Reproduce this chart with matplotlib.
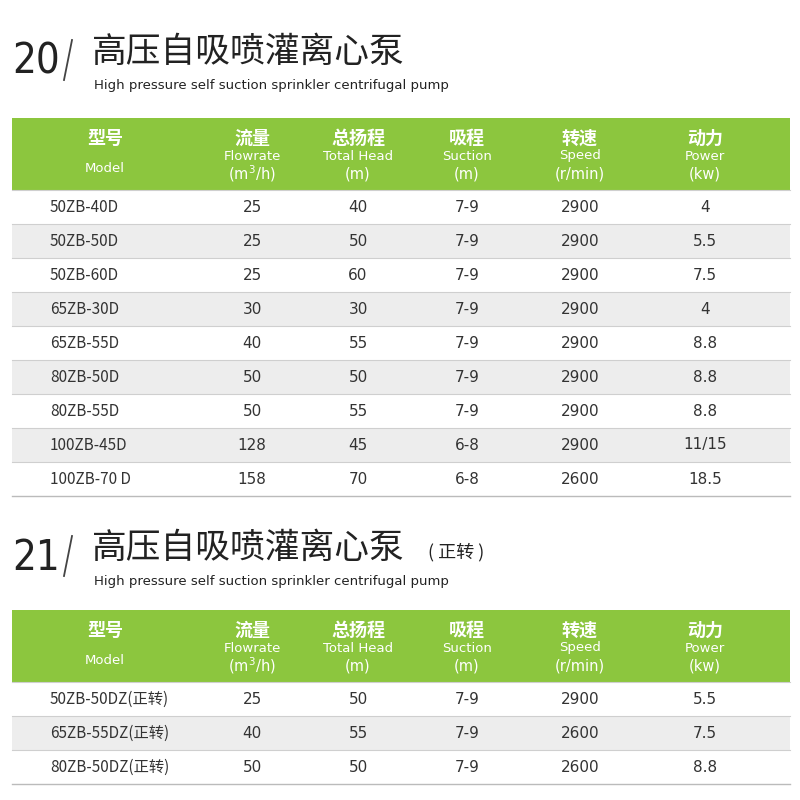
import matplotlib
matplotlib.use("Agg")
import matplotlib.pyplot as plt
from matplotlib.patches import Rectangle

plt.rcParams['font.family'] = ['Noto Sans CJK SC', 'DejaVu Sans']

header_cn = ["型号", "流量", "总扬程", "吸程", "转速", "动力"]
header_en = ["Model", "Flowrate", "Total Head", "Suction", "Speed", "Power"]
header_unit = ["", "(m$^3$/h)", "(m)", "(m)", "(r/min)", "(kw)"]

models_1 = ["50ZB-40D", "50ZB-50D", "50ZB-60D", "65ZB-30D", "65ZB-55D",
            "80ZB-50D", "80ZB-55D", "100ZB-45D", "100ZB-70 D"]
flow_1 = ["25", "25", "25", "30", "40", "50", "50", "128", "158"]
head_1 = ["40", "50", "60", "30", "55", "50", "55", "45", "70"]
suction_1 = ["7-9", "7-9", "7-9", "7-9", "7-9", "7-9", "7-9", "6-8", "6-8"]
speed_1 = ["2900"] * 8 + ["2600"]
power_1 = ["4", "5.5", "7.5", "4", "8.8", "8.8", "8.8", "11/15", "18.5"]

models_2 = ["50ZB-50DZ(正转)", "65ZB-55DZ(正转)", "80ZB-50DZ(正转)"]
flow_2 = ["25", "40", "50"]
head_2 = ["50", "55", "50"]
suction_2 = ["7-9", "7-9", "7-9"]
speed_2 = ["2900", "2600", "2600"]
power_2 = ["5.5", "7.5", "8.8"]

GREEN = "#8cc63e"
GREY = "#ededed"
TEXT = "#333333"
col_x = [105, 252, 358, 467, 580, 705]

fig = plt.figure(figsize=(8, 8), dpi=100)
ax = fig.add_axes([0, 0, 1, 1])
ax.set_xlim(0, 800)
ax.set_ylim(800, 0)
ax.axis("off")


def title(y, num, cn, suffix=""):
    ax.text(12, y + 10, num, fontsize=30, color="#222222", va="center",
            family="DejaVu Sans", fontstretch="condensed")
    ax.plot([72, 64], [y - 12, y + 28], color="#444444", lw=1.3)
    ax.text(92, y, cn, fontsize=25, color="#222222", va="center")
    if suffix:
        ax.text(428, y + 4, suffix, fontsize=13, color="#222222", va="center")
    ax.text(94, y + 34, "High pressure self suction sprinkler centrifugal pump",
            fontsize=9.5, color="#222222", va="center", family="DejaVu Sans")


def table(top, models, flow, head, suction, speed, power, row_h=34):
    hh = 72
    ax.add_patch(Rectangle((12, top), 778, hh, color=GREEN, lw=0))
    for i, x in enumerate(col_x):
        ax.text(x, top + 20, header_cn[i], fontsize=13, color="white",
                ha="center", va="center", weight="bold")
        ax.text(x, top + 38 + (12 if i == 0 else 0), header_en[i], fontsize=9.5,
                color="white", ha="center", va="center", family="DejaVu Sans")
        if header_unit[i]:
            ax.text(x, top + 56, header_unit[i], fontsize=10.5, color="white",
                    ha="center", va="center", family="DejaVu Sans")
    y0 = top + hh
    cols = [flow, head, suction, speed, power]
    for r in range(len(models)):
        y = y0 + r * row_h
        if r % 2 == 1:
            ax.add_patch(Rectangle((12, y), 778, row_h, color=GREY, lw=0))
        ax.plot([12, 790], [y, y], color="#cfcfcf", lw=0.8)
        ax.text(50, y + row_h / 2, models[r], fontsize=11, color=TEXT, va="center")
        for c, vals in enumerate(cols):
            ax.text(col_x[c + 1], y + row_h / 2, vals[r], fontsize=11, color=TEXT,
                    ha="center", va="center", family="DejaVu Sans")
    yb = y0 + len(models) * row_h
    ax.plot([12, 790], [yb, yb], color="#bbbbbb", lw=1)


title(52, "20", "高压自吸喷灌离心泵")
table(118, models_1, flow_1, head_1, suction_1, speed_1, power_1, row_h=34)
title(548, "21", "高压自吸喷灌离心泵", "( 正转 )")
table(610, models_2, flow_2, head_2, suction_2, speed_2, power_2, row_h=34)

fig.savefig("out.png", dpi=100)
